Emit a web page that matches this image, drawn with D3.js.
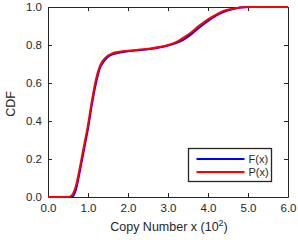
<!DOCTYPE html>
<html>
<head>
<meta charset="utf-8">
<script src="https://cdn.jsdelivr.net/npm/d3@7"></script>
<style>
  body { margin: 0; background: #fff; }
  svg { font-family: "Liberation Sans", Arial, sans-serif; }
</style>
</head>
<body>
<svg id="chart" width="298" height="240"></svg>
<script>
// data
const copyNumber = [0, 0.5, 0.6, 0.7, 0.8, 0.9, 1.0, 1.1, 1.2, 1.3, 1.4, 1.5, 1.6, 1.8, 2.0, 2.5, 3.0, 3.2, 3.4, 3.6, 3.8, 4.0, 4.2, 4.4, 4.6, 4.8, 5.0, 6.0];
const cdfF = [0, 0, 0.0, 0.04, 0.14, 0.25, 0.36, 0.49, 0.6, 0.68, 0.715, 0.738, 0.75, 0.76, 0.767, 0.777, 0.797, 0.81, 0.83, 0.86, 0.895, 0.927, 0.955, 0.975, 0.988, 0.997, 1, 1];
const cdfP = [0, 0, 0.01, 0.06, 0.16, 0.27, 0.38, 0.51, 0.62, 0.69, 0.725, 0.745, 0.755, 0.765, 0.77, 0.78, 0.8, 0.815, 0.84, 0.87, 0.905, 0.935, 0.96, 0.98, 0.99, 0.998, 1, 1];
const xTicks = [0, 1, 2, 3, 4, 5, 6];
const yTicks = [0, 0.2, 0.4, 0.6, 0.8, 1.0];
const seriesNames = ["F(x)", "P(x)"];
const seriesColors = ["#0000ff", "#ff0000"];

const svg = d3.select("#chart");
const mLeft = 48, mRight = 288, mTop = 7, mBottom = 197;

const x = d3.scaleLinear().domain([0, 6]).range([mLeft, mRight]);
const y = d3.scaleLinear().domain([0, 1]).range([mBottom, mTop]);

const axisColor = "#262626";

// axes with inward ticks
const gx = svg.append("g").attr("transform", `translate(0,${mBottom})`)
  .call(d3.axisBottom(x).tickValues(xTicks).tickSizeInner(-4).tickSizeOuter(0).tickPadding(7).tickFormat(d3.format(".1f")));
const gy = svg.append("g").attr("transform", `translate(${mLeft},0)`)
  .call(d3.axisLeft(y).tickValues(yTicks).tickSizeInner(-4).tickSizeOuter(0).tickPadding(6).tickFormat(d3.format(".1f")));
const gt = svg.append("g").attr("transform", `translate(0,${mTop})`)
  .call(d3.axisTop(x).tickValues(xTicks).tickSizeInner(-4).tickSizeOuter(0).tickFormat(""));
const gr = svg.append("g").attr("transform", `translate(${mRight},0)`)
  .call(d3.axisRight(y).tickValues(yTicks).tickSizeInner(-4).tickSizeOuter(0).tickFormat(""));

[gx, gy, gt, gr].forEach(g => {
  g.select(".domain").attr("stroke", axisColor).attr("stroke-width", 1);
  g.selectAll(".tick line").attr("stroke", axisColor);
  g.selectAll(".tick text").attr("fill", axisColor).style("font-size", "11.5px");
});

// curves
const line = d3.line().curve(d3.curveMonotoneX)
  .x((d, i) => x(copyNumber[i]))
  .y(d => y(d));

[cdfF, cdfP].forEach((s, i) => {
  svg.append("path")
    .datum(s)
    .attr("d", line)
    .attr("fill", "none")
    .attr("stroke", seriesColors[i])
    .attr("stroke-width", 2);
});

// labels
svg.append("text")
  .attr("x", 169)
  .attr("y", 231)
  .attr("text-anchor", "middle")
  .attr("fill", axisColor)
  .style("font-size", "12.5px")
  .html('Copy Number x (10<tspan dy="-5" font-size="9px">2</tspan><tspan dy="5">)</tspan>');

svg.append("text")
  .attr("transform", `translate(15,104) rotate(-90)`)
  .attr("text-anchor", "middle")
  .attr("fill", axisColor)
  .style("font-size", "12.5px")
  .text("CDF");

// legend
const legend = svg.append("g").attr("transform", "translate(188.5,148.5)");
legend.append("rect")
  .attr("width", 83).attr("height", 33)
  .attr("fill", "#fff")
  .attr("stroke", axisColor)
  .attr("stroke-width", 1.3);

seriesNames.forEach((name, i) => {
  const ly = 10.5 + i * 13;
  legend.append("line")
    .attr("x1", 8).attr("x2", 56)
    .attr("y1", ly).attr("y2", ly)
    .attr("stroke", seriesColors[i])
    .attr("stroke-width", 2);
  legend.append("text")
    .attr("x", 60).attr("y", ly + 4)
    .attr("fill", axisColor)
    .style("font-size", "11px")
    .text(name);
});
</script>
</body>
</html>
